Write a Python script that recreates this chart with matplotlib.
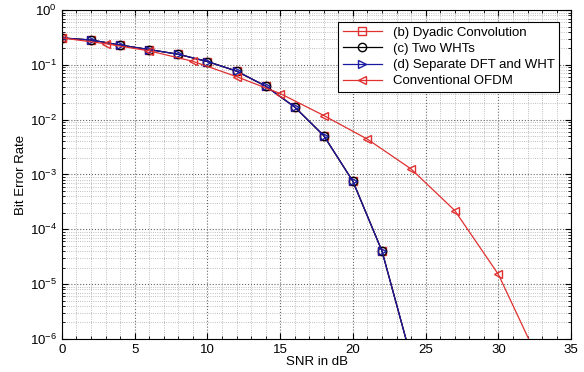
import numpy as np
import matplotlib
matplotlib.use("Agg")
import matplotlib.pyplot as plt
from matplotlib.ticker import FixedLocator, MultipleLocator, NullFormatter, LogFormatterMathtext

plt.rcParams['font.family'] = ['Liberation Sans', 'DejaVu Sans']
plt.rcParams['mathtext.fontset'] = 'custom'
plt.rcParams['mathtext.rm'] = 'Liberation Sans'

snr_wht = [0, 2, 4, 6, 8, 10, 12, 14, 16, 18, 20, 22, 24]
ber_dyadic = [0.31, 0.284, 0.23, 0.19, 0.156, 0.115, 0.077, 0.041, 0.017, 0.0051, 7.5e-4, 4.0e-5, 4.5e-7]
ber_two_wht = [0.31, 0.284, 0.23, 0.19, 0.156, 0.115, 0.077, 0.041, 0.017, 0.0051, 7.5e-4, 4.0e-5, 4.5e-7]
ber_sep = [0.31, 0.284, 0.23, 0.19, 0.156, 0.115, 0.077, 0.041, 0.017, 0.0051, 7.5e-4, 4.0e-5, 4.5e-7]

snr_ofdm = [0, 3, 6, 9, 12, 15, 18, 21, 24, 27, 30, 33]
ber_ofdm = [0.31, 0.243, 0.18, 0.116, 0.061, 0.030, 0.0119, 0.0044, 1.26e-3, 2.2e-4, 1.5e-5, 3e-7]

labels = ['(b) Dyadic Convolution', '(c) Two WHTs', '(d) Separate DFT and WHT', 'Conventional OFDM']
y_major = [1e-6, 1e-5, 1e-4, 1e-3, 1e-2, 1e-1, 1]

fig = plt.figure(figsize=(5.84, 3.72), dpi=100)
ax = fig.add_axes([0.106, 0.089, 0.872, 0.884])

lw = 0.9
ms = 6
ax.semilogy(snr_wht, ber_dyadic, color='#e03030', marker='s', mfc='none', ms=ms, lw=lw, label=labels[0])
ax.semilogy(snr_wht, ber_two_wht, color='black', marker='o', mfc='none', ms=ms, lw=lw, label=labels[1])
ax.semilogy(snr_wht, ber_sep, color='#1a1aa0', marker='>', mfc='none', ms=ms, lw=lw, label=labels[2])
ax.semilogy(snr_ofdm, ber_ofdm, color='#e03030', marker='<', mfc='none', ms=ms, lw=lw, label=labels[3])

ax.set_xlim(0, 35)
ax.set_ylim(1e-6, 1)
ax.xaxis.set_major_locator(MultipleLocator(5))
ax.xaxis.set_minor_locator(MultipleLocator(1))
ax.yaxis.set_major_locator(FixedLocator(y_major))
ax.yaxis.set_major_formatter(LogFormatterMathtext())
minors = [m * d for d in y_major[:-1] for m in range(2, 10)]
ax.yaxis.set_minor_locator(FixedLocator(minors))
ax.yaxis.set_minor_formatter(NullFormatter())

ax.grid(True, which='major', linestyle=':', color='#666666', lw=0.8)
ax.grid(True, which='minor', linestyle=':', color='#aaaaaa', lw=0.6)
ax.tick_params(which='both', direction='in', top=True, right=True, labelsize=9.5)
ax.tick_params(which='major', length=4)
ax.tick_params(which='minor', length=2)
for s in ax.spines.values():
    s.set_linewidth(0.8)

ax.set_xlabel('SNR in dB', fontsize=9.5, labelpad=0)
ax.set_ylabel('Bit Error Rate', fontsize=9.5, labelpad=2)

leg = ax.legend(loc='upper right', fontsize=9.5, fancybox=False, framealpha=1,
                edgecolor='black', borderaxespad=0.9, handlelength=3.0,
                borderpad=0.35, labelspacing=0.3)
leg.get_frame().set_linewidth(0.8)

fig.savefig('out.png', dpi=100)
